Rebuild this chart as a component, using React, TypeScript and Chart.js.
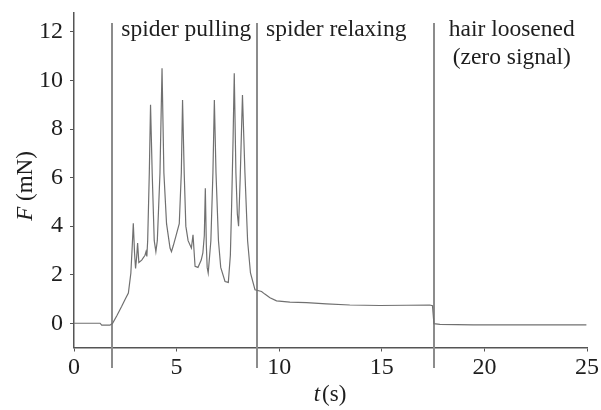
import React, { useEffect, useRef } from "react";
import { Chart, registerables } from "chart.js";

Chart.register(...registerables);

// time (s)
const TIMES: number[] = [
  0, 1.27, 1.35, 1.75, 1.88, 2.08, 2.32, 2.5, 2.65, 2.77, 2.84, 2.89, 2.95, 3.0, 3.05,
  3.1, 3.16, 3.3, 3.46, 3.51, 3.55, 3.59, 3.67, 3.73, 3.81, 3.91, 3.99, 4.06, 4.19, 4.29,
  4.38, 4.51, 4.68, 4.75, 4.84, 4.97, 5.13, 5.23, 5.29, 5.37, 5.45, 5.56, 5.72, 5.8, 5.9,
  6.04, 6.2, 6.28, 6.35, 6.4, 6.45, 6.49, 6.54, 6.67, 6.77, 6.84, 6.92, 7.04, 7.15, 7.36,
  7.52, 7.62, 7.68, 7.75, 7.81, 7.89, 7.96, 8.02, 8.1, 8.21, 8.33, 8.46, 8.6, 8.82, 9.14,
  9.3, 9.55, 9.87, 10.52, 11.33, 12.3, 13.44, 14.9, 16.2, 17.34, 17.47, 17.54, 17.83, 19.45,
  21.08, 24.97,
];
// force (mN)
const FORCES: number[] = [
  0, 0, -0.08, -0.08, 0, 0.3, 0.69, 1.0, 1.24, 2.06, 3.2, 4.12, 2.9, 2.26, 2.7,
  3.3, 2.5, 2.6, 2.8, 2.95, 2.75, 3.4, 6.2, 9.0, 6.2, 3.4, 2.95, 3.4, 6.2, 10.5,
  6.2, 4.1, 3.1, 2.95, 3.2, 3.6, 4.1, 6.2, 9.2, 6.2, 4.0, 3.4, 3.1, 3.64, 2.34,
  2.3, 2.6, 2.9, 3.6, 5.56, 3.2, 2.3, 2.07, 3.4, 6.2, 9.2, 6.2, 3.4, 2.3, 1.72,
  1.68, 2.8, 4.8, 7.5, 10.3, 6.2, 4.5, 4.0, 6.0, 9.4, 6.2, 3.4, 2.07, 1.38, 1.31,
  1.2, 1.05, 0.92, 0.87, 0.85, 0.8, 0.75, 0.73, 0.74, 0.75, 0.72, -0.02, -0.05, -0.07,
  -0.07, -0.07,
];

const X_TICKS = [0, 5, 10, 15, 20, 25];
const Y_TICKS = [0, 2, 4, 6, 8, 10, 12];
const PHASE_TIMES = [1.85, 8.93, 17.55];
const PHASE_LABELS: { t: number; lines: string[] }[] = [
  { t: 5.47, lines: ["spider pulling"] },
  { t: 12.78, lines: ["spider relaxing"] },
  { t: 21.33, lines: ["hair loosened", "(zero signal)"] },
];

const FONT = "'Liberation Serif', 'Times New Roman', serif";

const overlay = {
  id: "overlay",
  beforeDatasetsDraw(chart: any) {
    const { ctx, scales } = chart;
    const xs = scales.x;
    ctx.save();
    ctx.strokeStyle = "#8c8c8c";
    ctx.lineWidth = 2;
    PHASE_TIMES.forEach((t) => {
      const px = Math.round(xs.getPixelForValue(t));
      ctx.beginPath();
      ctx.moveTo(px, 23);
      ctx.lineTo(px, 368);
      ctx.stroke();
    });
    ctx.restore();
  },
  afterDraw(chart: any) {
    const { ctx, scales } = chart;
    const xs = scales.x;
    ctx.save();
    ctx.fillStyle = "#1e1e1e";
    ctx.font = `23.5px ${FONT}`;
    ctx.textAlign = "center";
    ctx.textBaseline = "alphabetic";
    PHASE_LABELS.forEach((p) => {
      const cx = xs.getPixelForValue(p.t);
      p.lines.forEach((line, i) => {
        ctx.fillText(line, cx, 36 + i * 28);
      });
    });

    // x title: t (s)
    const italic = `italic 23px ${FONT}`;
    const normal = `23px ${FONT}`;
    ctx.textAlign = "left";
    ctx.font = italic;
    const wT = ctx.measureText("t").width;
    ctx.font = normal;
    const wS = ctx.measureText("(s)").width;
    let x0 = 330 - (wT + wS + 2) / 2;
    ctx.font = italic;
    ctx.fillText("t", x0, 401);
    ctx.font = normal;
    ctx.fillText("(s)", x0 + wT + 2, 401);

    // y title: F (mN)
    ctx.translate(32, 186);
    ctx.rotate(-Math.PI / 2);
    ctx.font = italic;
    const wF = ctx.measureText("F").width;
    ctx.font = normal;
    const wM = ctx.measureText(" (mN)").width;
    x0 = -(wF + wM) / 2;
    ctx.font = italic;
    ctx.fillText("F", x0, 0);
    ctx.font = normal;
    ctx.fillText(" (mN)", x0 + wF, 0);
    ctx.restore();
  },
};

export default function App() {
  const ref = useRef<HTMLCanvasElement | null>(null);
  useEffect(() => {
    if (!ref.current) return;
    const points = TIMES.map((t, i) => ({ x: t, y: FORCES[i] }));
    const chart = new Chart(ref.current, {
      type: "line",
      data: {
        datasets: [
          {
            data: points,
            borderColor: "#707070",
            borderWidth: 1.2,
            pointRadius: 0,
            tension: 0,
            fill: false,
          },
        ],
      },
      options: {
        animation: false,
        responsive: false,
        events: [],
        layout: { padding: { top: 13, right: 14, left: 0, bottom: 0 } },
        plugins: { legend: { display: false }, tooltip: { enabled: false } },
        scales: {
          x: {
            type: "linear",
            min: 0,
            max: 25,
            afterBuildTicks: (s: any) => {
              s.ticks = X_TICKS.map((v) => ({ value: v }));
            },
            afterFit: (s: any) => {
              s.height = 62.5;
              s.paddingLeft = 0;
              s.paddingRight = 0;
            },
            border: { color: "#555", width: 1.5 },
            grid: { drawOnChartArea: false, drawTicks: true, tickLength: 4, color: "#555" },
            ticks: {
              color: "#1e1e1e",
              font: { family: FONT, size: 24 },
              padding: 2,
              maxRotation: 0,
              autoSkip: false,
            },
          },
          y: {
            type: "linear",
            min: -1,
            max: 12.78,
            afterBuildTicks: (s: any) => {
              s.ticks = Y_TICKS.map((v) => ({ value: v }));
            },
            afterFit: (s: any) => {
              s.width = 74;
              s.paddingTop = 0;
              s.paddingBottom = 0;
            },
            border: { color: "#555", width: 1.5 },
            grid: { drawOnChartArea: false, drawTicks: true, tickLength: 4, color: "#555" },
            ticks: {
              color: "#1e1e1e",
              font: { family: FONT, size: 24 },
              padding: 7,
              autoSkip: false,
            },
          },
        },
      },
      plugins: [overlay],
    });
    return () => chart.destroy();
  }, []);
  return (
    <div style={{ position: "fixed", left: 0, top: 0, width: 601, height: 410, background: "#fff" }}>
      <canvas ref={ref} width={601} height={410} />
    </div>
  );
}
